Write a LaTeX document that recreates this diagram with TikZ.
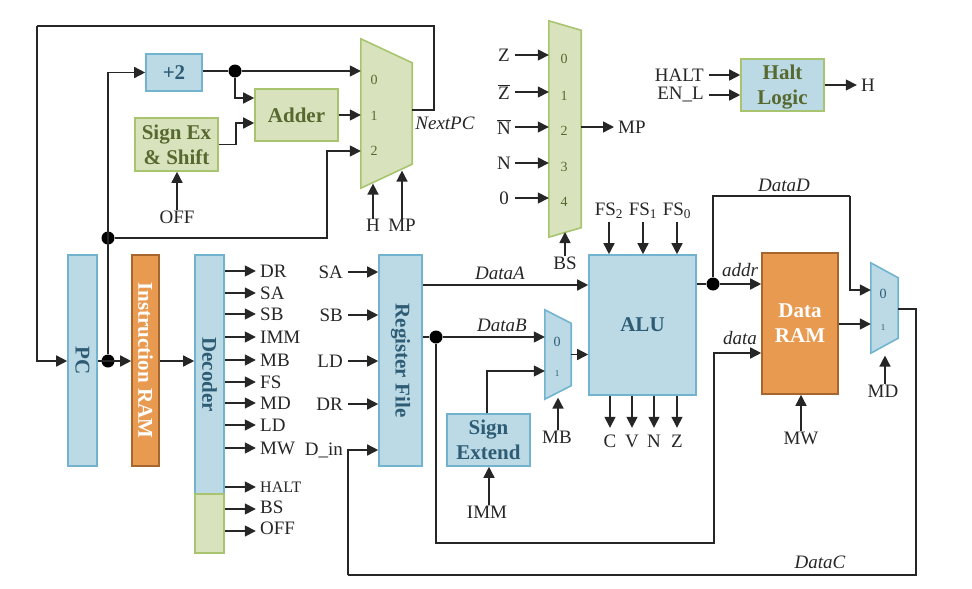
\documentclass[tikz,border=0pt]{standalone}
\usepackage{fontspec}
\setmainfont{Liberation Serif}
\usetikzlibrary{arrows.meta, positioning, calc}
\definecolor{bluefill}{HTML}{BBDAE5}
\definecolor{blueline}{HTML}{72B4CF}
\definecolor{bluetext}{HTML}{2E5C75}
\definecolor{greenfill}{HTML}{D8E3BE}
\definecolor{greenline}{HTML}{A8C46E}
\definecolor{greentext}{HTML}{57692F}
\definecolor{orangefill}{HTML}{E99A51}
\definecolor{orangeline}{HTML}{A8662F}
\tikzstyle{block} = [rectangle, text centered, align=center, inner sep=0pt, line width=1.6pt, font=\fontsize{21}{25}\selectfont\bfseries]
\tikzstyle{blueblock} = [block, draw=blueline, fill=bluefill, text=bluetext]
\tikzstyle{greenblock} = [block, draw=greenline, fill=greenfill, text=greentext]
\tikzstyle{orangeblock} = [block, draw=orangeline, fill=orangefill, text=white]
\tikzstyle{muxgreen} = [draw=greenline, fill=greenfill, line width=1.6pt, line join=miter]
\tikzstyle{muxblue} = [draw=blueline, fill=bluefill, line width=1.6pt, line join=miter]
\tikzstyle{muxframe} = [rectangle, inner sep=0pt]
\tikzstyle{digit} = [inner sep=0pt, font=\fontsize{14}{14}\selectfont]
\tikzstyle{sig} = [inner sep=0pt, font=\fontsize{19}{19}\selectfont, text=black!85]
\tikzstyle{wirename} = [inner sep=0pt, font=\fontsize{19}{19}\selectfont\itshape, text=black!85]
\tikzstyle{wire} = [line width=1.5pt, black!85, line join=miter]
\tikzstyle{arrow} = [wire, -{Triangle[length=11pt,width=11pt]}]
\tikzstyle{junction} = [circle, fill=black, inner sep=0pt, minimum size=13pt]
% mux body inside a frame node: name, slant, style
\newcommand{\muxbody}[3]{\draw[#3] (#1.north west) -- ($(#1.north east)+(0,#2)$) -- ($(#1.south east)+(0,-#2)$) -- (#1.south west) -- cycle;}
\begin{document}
\begin{tikzpicture}[x=1pt, y=-1pt]
    \useasboundingbox (0,0) rectangle (972,589);

    % fetch path
    \node[blueblock, minimum width=29pt, minimum height=211pt] (pc) at (82.5,360.5) {\rotatebox{-90}{PC}};
    \node[orangeblock, minimum width=27pt, minimum height=211pt] (iram) at (145.5,360.5) {\rotatebox{-90}{Instruction RAM}};
    \node[blueblock, minimum width=29pt, minimum height=239pt] (decoder) at (209.5,374.5) {\rotatebox{-90}{Decoder}};
    \node[greenblock, minimum width=29pt, minimum height=59pt] (decoderb) at (209.5,523.5) {};
    \node[junction] (dotpc) at (108,361) {};
    \node[junction] (dotup) at (108,238) {};

    % next pc
    \node[blueblock, minimum width=56pt, minimum height=37pt] (plustwo) at (174,72.5) {+2};
    \node[greenblock, minimum width=83pt, minimum height=52pt] (adder) at (296.5,115) {Adder};
    \node[greenblock, minimum width=83pt, minimum height=53pt] (signex) at (176.5,144.5) {Sign Ex\\\& Shift};
    \node[junction] (dotplus) at (235,71) {};
    \node[sig] (off) at (177,217) {OFF};
    \node[muxframe, minimum width=51pt, minimum height=149pt] (muxpc) at (386.5,113.5) {};
    \muxbody{muxpc}{24}{muxgreen}
    \node[digit, text=greentext] (pc0) at (374,80) {0};
    \node[digit, text=greentext] (pc1) at (374,116) {1};
    \node[digit, text=greentext] (pc2) at (374,151) {2};
    \node[sig] (hin) at (373,225) {H};
    \node[sig] (mpin) at (402,225) {MP};
    \node[wirename, right=3pt of muxpc.east, yshift=-10pt] (nextpc) {NextPC};
    \coordinate (nextout) at (412,110);
    \coordinate (topright) at (434,26);
    \coordinate (topleft) at (37,26);
    \coordinate (bendtwo) at (327,151);

    \draw[wire] (nextout) -| (topright) -- (topleft);
    \draw[arrow] (topleft) |- (pc.west |- dotpc);
    \draw[arrow] (pc.east |- dotpc) -- (iram.west |- dotpc);
    \draw[arrow] (iram.east |- dotpc) -- (decoder.west |- dotpc);
    \draw[arrow] (dotpc) |- (plustwo.west);
    \draw[wire] (plustwo.east |- dotplus) -- (dotplus);
    \draw[arrow] (dotplus) -- (muxpc.west |- dotplus);
    \draw[arrow] (dotplus) |- ($(adder.west)+(0,-17)$);
    \draw[arrow] (signex.east) -- ++(17,0) |- ($(adder.west)+(0,8)$);
    \draw[arrow] (adder.east) -- (muxpc.west |- adder.east);
    \draw[arrow] (dotup) -| (bendtwo) -- (muxpc.west |- bendtwo);
    \draw[arrow] (off.north) -- ++(0,-7) -- (signex.south -| off);
    \draw[arrow] (hin.north) -- ++(0,-9) -- ++(0,-26);
    \draw[arrow] (mpin.north) -- ++(0,-9) -- ++(0,-39);

    % branch mux
    \node[muxframe, minimum width=32pt, minimum height=216pt] (muxbs) at (565,129) {};
    \muxbody{muxbs}{9.5}{muxgreen}
    \foreach \num/\ypos/\txt in {0/55/Z, 1/92/{$\overline{\mbox{Z}}$}, 2/127/{$\overline{\mbox{N}}$}, 3/163/N, 4/198/0} {
        \node[sig] (bs\num) at (504,\ypos) {\txt};
        \node[digit, text=greentext] (bsd\num) at (564,\ypos+4) {\num};
        \draw[arrow] (515,\ypos) -- (muxbs.west |- bs\num);
    }
    \node[sig, anchor=west] (mpout) at (618,127) {MP};
    \draw[arrow] (muxbs.east |- mpout) -- (614,127);
    \node[sig] (bssel) at (565,263) {BS};
    \draw[arrow] (bssel.north) -- (565,232);

    % halt
    \node[block, draw=greenline, fill=bluefill, text=greentext, minimum width=83pt, minimum height=52pt, text depth=-3pt] (halt) at (782.5,85) {Halt\\Logic};
    \node[sig, anchor=east] (haltin) at (704,75) {HALT};
    \node[sig, anchor=east] (enin) at (704,95) {EN\_L};
    \node[sig] (hout) at (868,85) {H};
    \draw[arrow] (haltin.east) ++(5,0) -- (halt.west |- haltin);
    \draw[arrow] (enin.east) ++(5,0) -- (halt.west |- enin);
    \draw[arrow] (halt.east) -- ++(32,0);

    % decoder outputs
    \foreach \name/\ypos in {DR/271, SA/293, SB/314, IMM/337, MB/360, FS/382, MD/403, LD/425, MW/448} {
        \node[sig, anchor=west] (dec\name) at (260,\ypos) {\name};
        \draw[arrow] (decoder.east |- dec\name) -- ++(31,0);
    }
    \node[sig, anchor=west, font=\fontsize{16}{16}\selectfont] (decHALT) at (260,487) {HALT};
    \node[sig, anchor=west] (decBS) at (260,507) {BS};
    \node[sig, anchor=west] (decOFF) at (260,528) {OFF};
    \draw[arrow] (decoder.east |- decHALT) -- ++(31,0);
    \draw[arrow] (decoderb.east |- 0,509) -- ++(31,0);
    \draw[arrow] (decoderb.east |- 0,531) -- ++(31,0);

    % register file
    \node[blueblock, minimum width=43pt, minimum height=211pt] (regfile) at (400.5,360.5) {\rotatebox{-90}{Register File}};
    \foreach \name/\ypos in {SA/272, SB/315, LD/361, DR/404} {
        \node[sig, anchor=east] (reg\name) at (343,\ypos) {\name};
        \draw[arrow] (348,\ypos) -- (regfile.west |- reg\name);
    }
    \node[sig, anchor=east] (regin) at (343,450) {D\_in};
    \coordinate (cleft) at (348,575);
    \coordinate (cright) at (916,575);

    % alu and memory
    \node[blueblock, minimum width=107pt, minimum height=140pt] (alu) at (642.5,325) {ALU};
    \node[orangeblock, minimum width=76pt, minimum height=141pt] (dram) at (800,323.5) {Data\\RAM};
    \node[blueblock, minimum width=83pt, minimum height=52pt] (signext) at (488.5,440) {Sign\\Extend};
    \node[muxframe, minimum width=26pt, minimum height=89pt] (muxb) at (558,354.5) {};
    \muxbody{muxb}{13.5}{muxblue}
    \node[digit, text=bluetext] (mb0) at (557,342) {0};
    \node[digit, text=bluetext, font=\fontsize{9}{9}\selectfont] (mb1) at (557,374) {1};
    \node[muxframe, minimum width=27pt, minimum height=90pt] (muxd) at (884.5,308) {};
    \muxbody{muxd}{15}{muxblue}
    \node[digit, text=bluetext] (md0) at (883,294) {0};
    \node[digit, text=bluetext, font=\fontsize{9}{9}\selectfont] (md1) at (883,328) {1};
    \node[junction] (dotb) at (436,337) {};
    \node[junction] (dotalu) at (713,284) {};

    \node[wirename] (dataa) at (500,273) {DataA};
    \node[wirename] (datab) at (502,325) {DataB};
    \node[wirename] (datad) at (784,185) {DataD};
    \node[wirename] (addr) at (740,270) {addr};
    \node[wirename] (datain) at (740,338) {data};
    \node[wirename] (datac) at (820,562) {DataC};
    \coordinate (dtop) at (850,196);
    \coordinate (lowbend) at (714,543);
    \coordinate (signbend) at (487,371);

    \draw[arrow] (regfile.east |- 0,285) -- (alu.west |- 0,285);
    \draw[wire] (regfile.east |- dotb) -- (dotb);
    \draw[arrow] (dotb) -- (muxb.west |- dotb);
    \draw[arrow] (dotb) |- (lowbend) |- (dram.west |- 0,353);
    \draw[arrow] (signext.north -| signbend) -- (signbend) -- (muxb.west |- signbend);
    \draw[arrow] (muxb.east) -- (alu.west |- muxb.east);
    \draw[wire] (alu.east |- dotalu) -- (dotalu);
    \draw[arrow] (dotalu) -- (dram.west |- dotalu);
    \draw[wire] (dotalu) |- (dtop);
    \draw[arrow] (dtop) |- (muxd.west |- 0,290);
    \draw[arrow] (dram.east |- 0,324) -- (muxd.west |- 0,324);
    \draw[wire] (muxd.east |- 0,309) -| (cright) -- (cleft);
    \draw[arrow] (cleft) |- (regfile.west |- regin);

    % control inputs and flags
    \foreach \name/\xpos/\sub in {fstwo/609/2, fsone/643/1, fszero/677/0} {
        \node[sig] (\name) at (\xpos,211) {FS\textsubscript{\sub}};
        \draw[arrow] (\name.south) ++(0,3) -- (alu.north -| \name);
    }
    \foreach \name/\xpos in {C/610, V/632, N/654, Z/677} {
        \node[sig] (flag\name) at (\xpos,441) {\name};
        \draw[arrow] (alu.south -| flag\name) -- ++(0,32);
    }
    \node[sig] (imm) at (487,512) {IMM};
    \node[sig] (mbsel) at (557,437) {MB};
    \node[sig] (mdsel) at (883,391) {MD};
    \node[sig] (mwsel) at (801,438) {MW};
    \draw[arrow] (imm.north) ++(2,-1) -- (signext.south -| 489,0);
    \draw[arrow] (mbsel.north) ++(1,-1) -- ++(0,-32);
    \draw[arrow] (mdsel.north) ++(2,-1) -- ++(0,-28);
    \draw[arrow] (mwsel.north) -- (dram.south -| mwsel);
\end{tikzpicture}
\end{document}
